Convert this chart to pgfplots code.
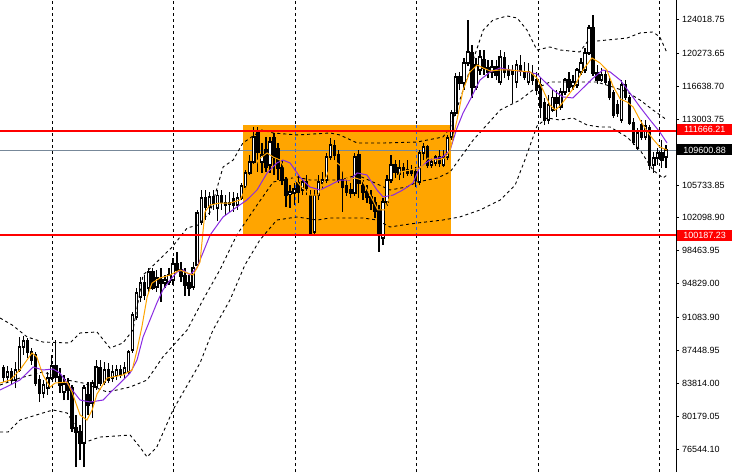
\documentclass[border=0pt]{standalone}
\usepackage{pgfplots}
\usepackage{pgfplotstable}
\pgfplotsset{compat=1.18}
\usepackage{fontspec}
\setmainfont{Liberation Sans}
\definecolor{mtorange}{RGB}{255,165,0}
\definecolor{mtviolet}{RGB}{138,43,226}
\definecolor{mtgray}{RGB}{119,136,153}
\definecolor{mtblue}{RGB}{40,90,230}

\pgfplotstableread{
i o h l c
0 85510 85840 83960 84520
1 84520 85730 83850 85070
2 85070 85510 83630 84180
3 84180 86170 83300 85290
4 85290 88940 85070 87830
5 87830 89050 86950 88490
6 88490 88820 86620 87280
7 87280 87720 85840 86390
8 86950 87280 83520 83850
9 84180 84730 81750 82750
10 82750 84180 82190 83630
11 83300 85070 82530 84400
12 84400 86950 84180 85730
13 85730 88600 83960 84520
14 84520 85510 82750 83630
15 82860 84730 81970 83740
16 83740 84400 81970 83080
17 83300 83630 78440 78880
18 78880 80320 74570 78440
19 78440 79210 75340 77220
20 77220 83630 74570 83300
21 82530 83960 80320 81420
22 81640 84180 79990 83850
23 83410 86390 83080 85620
24 85510 86390 83520 83850
25 83960 86170 83630 85290
26 85290 86060 83850 84180
27 84400 85840 83960 85070
28 84730 85840 84180 85290
29 85290 85840 84400 84730
30 84960 86170 84400 85510
31 85070 87500 84730 87280
32 87500 91700 87170 91370
33 91150 94350 90810 93800
34 93360 95570 92800 94900
35 94900 95790 93020 93580
36 94350 96560 93910 96120
37 96120 96560 94130 94350
38 94460 96340 93910 95460
39 95230 96560 92800 94900
40 94900 95790 94350 95230
41 95010 96560 94680 95790
42 95230 97660 94680 97000
43 97000 98330 96120 96340
44 96340 97220 95010 95680
45 95680 96560 93470 94680
46 94900 95790 93470 94350
47 94460 97220 94130 96560
48 96890 102970 96560 102640
49 101640 105180 101310 104300
50 104300 105180 101860 103300
51 103300 104960 102420 104410
52 104410 105180 102970 103740
53 103190 105180 101750 104620
54 104620 105180 102970 103850
55 103740 104620 102420 103520
56 103740 104960 102750 103630
57 104180 104960 102750 103520
58 103520 104850 102970 104300
59 104300 105950 104070 105620
60 105510 107390 105180 107060
61 107060 109050 106840 108270
62 108270 112140 108050 111030
63 111590 112140 107170 109380
64 108270 110370 107060 109050
65 109600 111030 107170 107720
66 107940 111030 107060 110480
67 110930 111480 106840 108830
68 109710 110370 106280 107610
69 107610 108490 105730 106280
70 106280 106620 103300 104620
71 104730 105730 103190 104960
72 104850 105950 103520 105290
73 105950 106840 103740 104960
74 105180 106500 104620 106060
75 106060 106840 104620 105400
76 104620 105180 100320 100430
77 100540 105180 100320 104620
78 104620 106840 104070 106060
79 105950 107170 105400 106280
80 106280 109270 105950 108830
81 108830 110930 108490 110150
82 110040 110700 108490 109050
83 109050 109600 105950 106280
84 106280 107390 102750 105510
85 105620 106500 104520 104960
86 105180 105950 104300 104850
87 104850 109270 104520 108830
88 109050 109600 104300 105950
89 105620 106280 104070 104960
90 104960 105730 103740 104410
91 104410 105180 102970 103740
92 103740 104410 102090 102860
93 102970 103520 98330 100430
94 99880 104300 99100 103850
95 103850 106840 103410 106280
96 106280 109050 105950 107940
97 107940 108490 106500 107170
98 106950 108490 106280 107610
99 107610 108160 106500 107390
100 107390 108490 106730 107060
101 107060 107940 106730 107280
102 107170 107720 105510 106280
103 106060 109600 105730 109270
104 109270 110370 108490 109930
105 109930 110150 107610 107940
106 107940 108710 107610 108270
107 108160 109050 107830 108830
108 108830 109600 107720 108160
109 107940 109600 107720 108830
110 108830 111260 108490 110930
111 111030 114020 110700 113690
112 113690 118110 113360 117670
113 117670 118220 116230 117000
114 117000 119770 116230 119210
115 119210 123960 118880 120430
116 120320 121200 115350 116560
117 116560 119770 116230 118990
118 118440 120650 117890 119870
119 119540 120650 117890 118660
120 118660 119540 117550 118220
121 118220 119540 117550 118770
122 118770 119540 117330 117890
123 117110 120650 116780 119870
124 119770 120430 117550 118220
125 118440 118990 117330 117890
126 118330 118990 114790 118000
127 117110 119540 116450 118990
128 118880 120100 117780 118330
129 118220 119320 117330 117670
130 117110 119210 116780 118220
131 118000 118990 116780 117330
132 117330 118220 115680 116230
133 116780 117550 113140 114350
134 114790 115350 112360 112910
135 112910 115680 112470 114570
136 114020 116230 113800 115350
137 115350 116230 113250 114790
138 114350 116450 114020 116010
139 116010 117550 115680 117330
140 117330 118220 116010 116560
141 116670 117890 116230 117110
142 116780 118660 116450 118440
143 118220 119770 117890 119210
144 118440 120870 118110 120320
145 120320 123410 120100 123080
146 123080 124520 117780 118110
147 118110 118990 116890 117330
148 117330 118660 117110 117890
149 117890 118440 116780 117110
150 117110 117550 115120 115350
151 115900 116230 113140 113470
152 114570 115120 113250 113690
153 112910 117330 112580 116780
154 116780 117330 115120 115350
155 115350 115680 112360 112580
156 112580 113140 110150 110480
157 109820 112030 109600 111480
158 112360 112910 110700 111030
159 111030 112910 110700 112250
160 112030 112360 107390 107940
161 107940 109380 107060 108710
162 108710 109820 107940 109270
163 109270 110700 107610 108490
164 108830 110150 107610 109601
}\candles

\pgfplotstableread{
x p
-0.8 83850
1.7 84180
4.1 85290
7.1 87170
8.3 86730
9.8 84740
11.6 83410
12.8 83850
15.8 83960
17.0 82860
19.0 80320
20.7 79760
22.0 80870
23.2 82640
25.7 84400
29.6 84740
31.9 85290
33.1 87500
34.3 90040
35.6 93360
36.8 94900
38.8 95460
41.3 95790
43.7 96340
45.5 96010
47.0 95790
48.7 97220
49.9 102750
51.2 103520
53.6 103740
56.1 103740
58.6 104070
59.8 105180
61.6 106620
63.0 108490
65.3 109270
66.8 108830
68.5 108490
70.2 107170
71.7 106620
73.4 105730
75.9 104620
77.9 104620
79.6 106280
81.6 108490
83.3 107940
85.1 106280
87.1 106510
88.8 106280
90.8 104620
92.7 102970
94.5 102970
96.2 105180
98.2 107170
100.7 107390
103.1 107610
105.1 108710
107.4 108490
109.3 108710
110.6 109600
112.3 112910
113.8 116230
115.5 118220
117.3 118990
118.8 118660
120.5 118330
123.0 118440
125.4 118440
127.9 118330
130.4 118220
132.1 117550
133.6 116230
135.3 114570
136.6 114020
137.8 114460
139.5 115450
141.0 116340
143.5 118440
145.7 119770
147.7 119210
149.4 118440
150.9 116670
152.7 115230
154.4 114900
155.9 114350
157.6 112910
159.3 111700
160.8 110810
162.5 109930
164.3 109600
}\maorange

\pgfplotstableread{
x p
-0.8 83080
1.7 83630
4.1 84180
7.4 85620
9.8 85290
12.3 85400
14.0 84960
16.5 83410
19.0 81970
21.5 81750
24.7 81970
26.4 82750
28.9 83850
31.4 84960
33.1 86390
34.6 88940
36.3 90810
38.0 92690
39.5 94130
41.3 95230
43.0 96120
44.5 96340
46.2 95790
47.9 96560
51.2 100210
54.4 102200
57.8 103300
60.3 104070
62.8 105180
65.3 107060
67.7 108160
69.2 108490
71.0 108160
73.4 106620
75.9 105510
78.4 105180
80.9 105730
83.3 106280
85.8 106280
87.6 107060
90.0 106840
92.5 105180
94.0 104410
96.5 104620
98.9 105180
101.4 105950
103.1 107720
105.6 108490
108.8 108830
110.6 109600
112.3 112030
113.8 113690
115.5 115120
118.0 117330
120.5 118220
123.0 118660
125.4 118440
129.6 118220
132.1 118000
133.6 117330
136.1 116230
138.5 115460
141.0 115350
143.5 116450
146.0 117550
148.4 118440
150.2 118220
152.7 117330
155.1 115900
157.6 114350
160.1 112910
162.5 111590
164.3 110370
}\maviolet

\pgfplotstableread{
x p
-0.8 91030
2.2 90260
5.9 88940
9.8 88380
16.5 88270
19.0 89380
23.2 89490
26.4 87720
29.6 88270
32.1 89710
34.6 95790
38.0 97220
41.8 98880
45.5 100980
48.2 101310
51.2 102750
54.4 107720
56.9 108490
59.3 110370
61.1 110930
64.0 111810
66.8 111480
72.7 111260
80.9 111480
83.3 111260
87.6 110370
94.0 110370
102.4 110480
108.8 111030
110.6 112030
113.0 115120
116.3 119540
118.8 122860
121.2 123960
124.7 124410
127.2 124180
129.6 122860
132.1 120650
135.3 120980
137.8 120650
142.7 120430
144.5 121530
149.4 121750
154.4 121970
157.6 122530
160.8 122640
162.5 122090
164.3 120320
}\bbup

\pgfplotstableread{
x p
-0.8 83630
4.1 84400
9.8 85070
15.8 84180
19.7 83850
25.7 82860
28.1 83080
31.4 83410
35.6 84180
39.5 86730
45.5 89710
49.4 93020
53.6 96340
57.8 100210
62.8 103520
66.8 106060
72.7 106620
75.9 106280
83.3 106280
87.6 106840
91.5 106060
95.7 105180
99.9 105510
102.4 106060
107.4 106500
110.6 107170
116.3 110700
123.0 114020
127.9 115120
131.1 116230
135.3 117110
143.5 117110
146.9 117110
150.9 116560
154.4 116010
157.6 115120
160.8 114020
164.3 112910
}\bbmid

\pgfplotstableread{
x p
-0.8 78440
1.2 78440
4.1 79760
9.8 80540
12.3 80870
15.8 80540
17.7 79210
19.7 77220
23.9 77880
31.4 78100
33.8 76780
35.6 75670
38.0 76780
42.0 80870
48.7 86060
51.9 89710
56.1 93020
59.8 96890
63.5 99650
67.7 101860
72.7 102200
77.7 101860
80.9 102090
89.0 102090
92.5 101860
95.7 101090
98.9 101310
102.4 101530
108.8 101860
113.0 102200
118.0 102970
123.0 104070
126.7 105730
129.1 108490
132.1 112250
134.6 113140
137.8 112910
141.0 113140
144.5 112360
147.7 112140
150.2 112140
152.7 111480
154.4 111030
157.6 109600
160.8 107390
163.3 106500
164.3 106840
}\bblow

\begin{document}
\begin{tikzpicture}
\useasboundingbox (0,0) rectangle (733pt,472pt);
\begin{axis}[
  at={(0pt,0pt)}, anchor=south west,
  width=676pt, height=472pt, scale only axis,
  xmin=-0.817, xmax=166.51, ymin=74018, ymax=126174,
  axis line style={draw=none},
  xtick={12.05,42,72.2,102.2,132.4,162.5},
  xmajorticks=false,
  xmajorgrids, major x grid style={black, line width=0.9pt, dash pattern=on 3pt off 3pt},
  ytick={124018.75,120273.65,116638.70,113003.75,105733.85,102098.90,98463.95,94829.00,91083.90,87448.95,83814.00,80179.05,76544.10},
  yticklabels={124018.75,120273.65,116638.70,113003.75,105733.85,102098.90,98463.95,94829.00,91083.90,87448.95,83814.00,80179.05,76544.10},
  ytick pos=right, yticklabel pos=right,
  tick align=outside, major tick length=3pt,
  ytick style={black, line width=0.8pt},
  yticklabel style={font=\fontsize{9}{10}\selectfont, anchor=west, inner sep=0pt, xshift=3pt},
  /pgf/number format/assume math mode=true,
  clip=true,
]
% range box
\addplot[forget plot, draw=none, fill=mtorange] coordinates {(59.26,100130) (110.7,100130) (110.7,112360) (59.26,112360)} -- cycle;
\addplot[forget plot, mtblue, line width=0.9pt, dash pattern=on 3pt off 3pt] coordinates {(72.2,100130) (72.2,112360)};
\addplot[forget plot, mtblue, line width=0.9pt, dash pattern=on 3pt off 3pt] coordinates {(102.2,100130) (102.2,112360)};
% bid line
\addplot[forget plot, mtgray, line width=0.8pt] coordinates {(-0.817,109600.88) (166.51,109600.88)};
% candles
\pgfplotsforeachungrouped \r in {0,...,164}{%
  \pgfplotstablegetelem{\r}{i}\of\candles\let\X\pgfplotsretval
  \pgfplotstablegetelem{\r}{o}\of\candles\let\O\pgfplotsretval
  \pgfplotstablegetelem{\r}{h}\of\candles\let\H\pgfplotsretval
  \pgfplotstablegetelem{\r}{l}\of\candles\let\L\pgfplotsretval
  \pgfplotstablegetelem{\r}{c}\of\candles\let\C\pgfplotsretval
  \pgfmathsetmacro\xa{\X-0.3}%
  \pgfmathsetmacro\xb{\X+0.3}%
  \ifnum\C>\O\relax\def\fc{white}\else\def\fc{black}\fi
  \edef\tmp{%
    \noexpand\addplot[forget plot, black, line width=1.3pt] coordinates {(\X,\L) (\X,\H)};%
    \noexpand\addplot[forget plot, draw=black, fill=\fc, line width=1.1pt] coordinates {(\xa,\O) (\xb,\O) (\xb,\C) (\xa,\C)} -- cycle;%
  }\tmp
}
% bands
\addplot[forget plot, black, line width=0.9pt, dash pattern=on 3pt off 3pt] table[x=x,y=p] {\bbup};
\addplot[forget plot, black, line width=0.9pt, dash pattern=on 3pt off 3pt] table[x=x,y=p] {\bbmid};
\addplot[forget plot, black, line width=0.9pt, dash pattern=on 3pt off 3pt] table[x=x,y=p] {\bblow};
% moving averages
\addplot[forget plot, mtviolet, line width=1pt] table[x=x,y=p] {\maviolet};
\addplot[forget plot, mtorange, line width=1pt] table[x=x,y=p] {\maorange};
% level lines
\addplot[forget plot, red, line width=2pt] coordinates {(-0.817,111666.21) (166.51,111666.21)};
\addplot[forget plot, red, line width=2pt] coordinates {(-0.817,100187.23) (166.51,100187.23)};
\coordinate (la) at (axis cs:166.51,111666.21);
\coordinate (lb) at (axis cs:166.51,109600.88);
\coordinate (lc) at (axis cs:166.51,100187.23);
\end{axis}
\draw[black, line width=1pt] (676pt,0pt) -- (676pt,472pt);
\tikzset{pricebox/.style={anchor=west, inner sep=0pt, minimum width=55pt, minimum height=11pt, text=white, font=\fontsize{9}{10}\selectfont}}
\node[pricebox, fill=red] at ([xshift=1pt,yshift=1.5pt]la) {111666.21};
\node[pricebox, fill=black] at ([xshift=1pt]lb) {109600.88};
\node[pricebox, fill=red] at ([xshift=1pt]lc) {100187.23};
\end{tikzpicture}
\end{document}
